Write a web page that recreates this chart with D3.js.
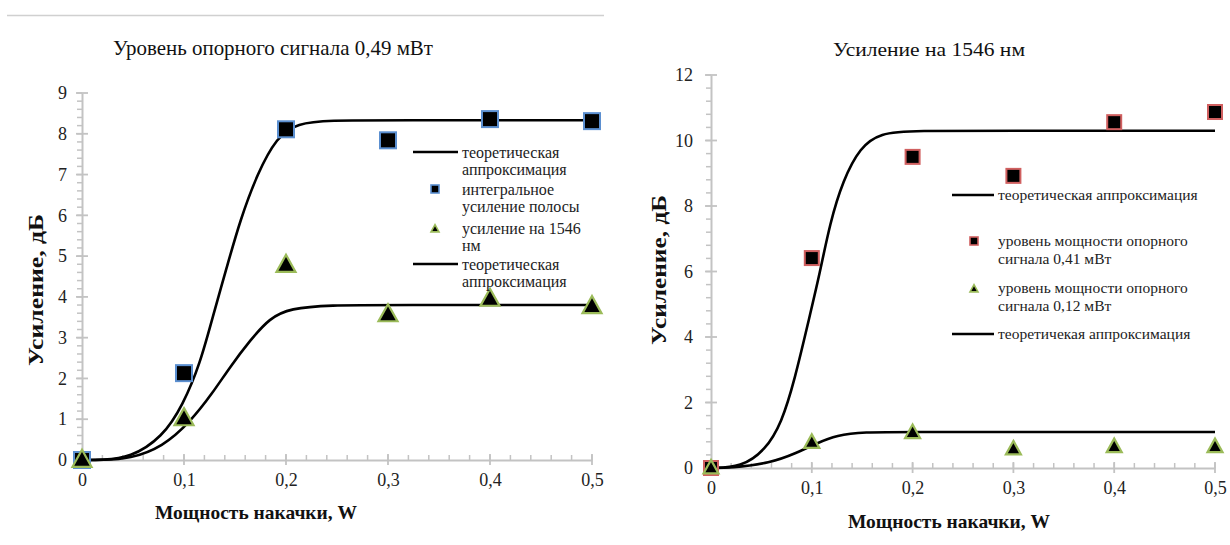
<!DOCTYPE html>
<html>
<head>
<meta charset="utf-8">
<script src="https://cdn.jsdelivr.net/npm/d3@7"></script>
<style>
html,body{margin:0;padding:0;background:#fff;}
svg{display:block;font-family:"Liberation Serif","Times New Roman",Tinos,"DejaVu Serif",serif;}
</style>
</head>
<body>
<svg id="c" width="1230" height="545"></svg>
<script>
// ---------- data ----------
const pumpPower = [0, 0.1, 0.2, 0.3, 0.4, 0.5];
const xTickLabels = ["0", "0,1", "0,2", "0,3", "0,4", "0,5"];

// left chart: "Уровень опорного сигнала 0,49 мВт"
const leftBandGain = [0, 2.13, 8.11, 7.84, 8.36, 8.31];
const left1546Gain = [0, 1.02, 4.78, 3.57, 3.95, 3.77];
const leftFitBandX = [0, 0.02, 0.047, 0.079, 0.099, 0.116, 0.128, 0.142, 0.155, 0.172, 0.191, 0.211, 0.243, 0.3, 0.5];
const leftFitBandY = [0, 0, 0.05, 0.56, 1.35, 2.38, 3.5, 4.73, 5.88, 7.03, 7.92, 8.26, 8.33, 8.33, 8.33];
const leftFit1546X = [0, 0.02, 0.047, 0.079, 0.106, 0.128, 0.145, 0.165, 0.184, 0.204, 0.243, 0.3, 0.5];
const leftFit1546Y = [0, 0, 0.03, 0.32, 0.93, 1.64, 2.28, 2.94, 3.48, 3.72, 3.8, 3.8, 3.8];
const leftYTicks = [0, 1, 2, 3, 4, 5, 6, 7, 8, 9];

// right chart: "Усиление на 1546 нм"
const right041Gain = [0, 6.41, 9.5, 8.92, 10.56, 10.87];
const right012Gain = [0, 0.78, 1.08, 0.58, 0.65, 0.65];
const rightFit041X = [0, 0.03, 0.054, 0.07, 0.083, 0.097, 0.108, 0.118, 0.131, 0.148, 0.168, 0.2, 0.3, 0.5];
const rightFit041Y = [0, 0.02, 0.55, 1.37, 2.69, 4.52, 5.95, 7.48, 8.79, 9.8, 10.23, 10.3, 10.3, 10.3];
const rightFit012X = [0, 0.019, 0.059, 0.085, 0.105, 0.125, 0.15, 0.2, 0.3, 0.5];
const rightFit012Y = [0, 0, 0.15, 0.46, 0.76, 1.0, 1.1, 1.1, 1.1, 1.1];
const rightYTicks = [0, 2, 4, 6, 8, 10, 12];

const svg = d3.select("#c");

// top separator line
svg.append("line").attr("x1", 7).attr("x2", 604).attr("y1", 15.5).attr("y2", 15.5)
  .attr("stroke", "#d0d0d0").attr("stroke-width", 1.5);

function drawChart(cfg) {
  const g = svg.append("g");
  const x = d3.scaleLinear().domain([0, 0.5]).range(cfg.xr);
  const y = d3.scaleLinear().domain([0, cfg.ymax]).range(cfg.yr);
  const axisColor = "#c3c3c3";
  const serif = '"Liberation Serif","Times New Roman",Tinos,"DejaVu Serif",serif';

  // minor ticks
  const xMinor = d3.range(0, 0.5001, 0.02);
  g.selectAll(null).data(xMinor).enter().append("line")
    .attr("x1", d => x(d)).attr("x2", d => x(d))
    .attr("y1", cfg.yr[0] - 5).attr("y2", cfg.yr[0])
    .attr("stroke", axisColor).attr("stroke-width", 1.5);
  const yMinor = d3.range(0, cfg.ymax + 0.0001, cfg.yMinorStep);
  g.selectAll(null).data(yMinor).enter().append("line")
    .attr("x1", cfg.xr[0] - 5).attr("x2", cfg.xr[0])
    .attr("y1", d => y(d)).attr("y2", d => y(d))
    .attr("stroke", axisColor).attr("stroke-width", 1.5);

  // axes using d3 axis generators
  const xAxis = d3.axisBottom(x).tickValues(pumpPower).tickSize(0)
    .tickFormat((d, i) => xTickLabels[i]);
  const xg = g.append("g").attr("transform", `translate(0,${cfg.yr[0]})`).call(xAxis);
  xg.attr("font-family", serif);
  xg.select(".domain").attr("stroke", axisColor).attr("stroke-width", 2);
  xg.selectAll("text").attr("font-size", 18).attr("fill", "#222").attr("dy", "1.3em");
  g.selectAll(null).data(pumpPower).enter().append("line")
    .attr("x1", d => x(d)).attr("x2", d => x(d))
    .attr("y1", cfg.yr[0] - 6).attr("y2", cfg.yr[0] + 5)
    .attr("stroke", axisColor).attr("stroke-width", 1.8);

  const yAxis = d3.axisLeft(y).tickValues(cfg.yTicks).tickSize(0).tickPadding(cfg.yPad)
    .tickFormat(d => String(d));
  const yg = g.append("g").attr("transform", `translate(${cfg.xr[0]},0)`).call(yAxis);
  yg.attr("font-family", serif);
  yg.select(".domain").attr("stroke", axisColor).attr("stroke-width", 2);
  yg.selectAll("text").attr("font-size", 18).attr("fill", "#222");
  g.selectAll(null).data(cfg.yTicks).enter().append("line")
    .attr("x1", cfg.xr[0] - 6).attr("x2", cfg.xr[0] + 6)
    .attr("y1", d => y(d)).attr("y2", d => y(d))
    .attr("stroke", axisColor).attr("stroke-width", 1.8);

  // fit curves
  const line = d3.line().x(d => x(d[0])).y(d => y(d[1])).curve(d3.curveBasis);
  cfg.fits.forEach(f => {
    g.append("path").datum(d3.zip(f.x, f.y)).attr("d", line)
      .attr("fill", "none").attr("stroke", "#000").attr("stroke-width", 2.6);
  });

  // markers
  const sq = cfg.squares;
  g.selectAll(null).data(d3.zip(pumpPower, sq.values)).enter().append("rect")
    .attr("x", d => x(d[0]) - sq.size / 2).attr("y", d => y(d[1]) - sq.size / 2)
    .attr("width", sq.size).attr("height", sq.size)
    .attr("fill", "#000").attr("stroke", sq.stroke).attr("stroke-width", 2);
  const tr = cfg.triangles;
  const triPath = (cx, cy, s) => {
    const h = s * 0.9;
    return `M${cx},${cy - h * 0.6}L${cx + s / 2},${cy + h * 0.4}L${cx - s / 2},${cy + h * 0.4}Z`;
  };
  g.selectAll(null).data(d3.zip(pumpPower, tr.values)).enter().append("path")
    .attr("d", d => triPath(x(d[0]), y(d[1]), tr.size))
    .attr("fill", "#000").attr("stroke", "#9bbb59").attr("stroke-width", 2.2)
    .attr("stroke-linejoin", "miter");

  // titles
  g.append("text").attr("x", cfg.title.x).attr("y", cfg.title.y).attr("text-anchor", "middle")
    .attr("font-size", cfg.title.size).attr("fill", "#111")
    .attr("textLength", cfg.title.len).attr("lengthAdjust", "spacingAndGlyphs")
    .text(cfg.title.text);
  g.append("text").attr("transform", `translate(${cfg.yTitle.x},${cfg.yTitle.y}) rotate(-90)`)
    .attr("text-anchor", "middle").attr("font-size", 22).attr("font-weight", "bold")
    .attr("textLength", cfg.yTitle.len).attr("lengthAdjust", "spacingAndGlyphs")
    .attr("fill", "#111").text("Усиление, дБ");
  g.append("text").attr("x", cfg.xTitle.x).attr("y", cfg.xTitle.y).attr("text-anchor", "middle")
    .attr("font-size", 19.5).attr("font-weight", "bold").attr("fill", "#111")
    .attr("textLength", 202).attr("lengthAdjust", "spacingAndGlyphs")
    .text("Мощность накачки, W");

  // legend
  const L = cfg.legend;
  L.items.forEach(it => {
    if (it.type === "line") {
      g.append("line").attr("x1", L.lineX[0]).attr("x2", L.lineX[1]).attr("y1", it.y).attr("y2", it.y)
        .attr("stroke", "#000").attr("stroke-width", 2.6);
    } else if (it.type === "square") {
      g.append("rect").attr("x", L.markX - 4).attr("y", it.y - 4).attr("width", 8).attr("height", 8)
        .attr("fill", "#000").attr("stroke", sq.stroke).attr("stroke-width", 1.6);
    } else {
      g.append("path").attr("d", triPath(L.markX, it.y + 1, 8))
        .attr("fill", "#000").attr("stroke", "#9bbb59").attr("stroke-width", 1.6);
    }
    it.lines.forEach((t, i) => {
      g.append("text").attr("x", L.textX).attr("y", it.y + i * L.lh).attr("dy", "0.35em")
        .attr("font-size", L.size).attr("fill", "#222").text(t);
    });
  });
}

drawChart({
  xr: [82, 592], yr: [460, 93], ymax: 9, yTicks: leftYTicks, yMinorStep: 0.2, yPad: 15,
  fits: [{x: leftFitBandX, y: leftFitBandY}, {x: leftFit1546X, y: leftFit1546Y}],
  squares: {values: leftBandGain, size: 16, stroke: "#5b8fd0"},
  triangles: {values: left1546Gain, size: 19},
  title: {x: 273, y: 55, size: 21, len: 320, text: "Уровень опорного сигнала 0,49 мВт"},
  yTitle: {x: 43, y: 290, len: 152}, xTitle: {x: 256, y: 519},
  legend: {
    lineX: [413, 458], markX: 435, textX: 462, lh: 17, size: 16,
    items: [
      {type: "line", y: 152, lines: ["теоретическая", "аппроксимация"]},
      {type: "square", y: 189, lines: ["интегральное", "усиление полосы"]},
      {type: "tri", y: 228, lines: ["усиление на 1546", "нм"]},
      {type: "line", y: 264, lines: ["теоретическая", "аппроксимация"]}
    ]
  }
});

drawChart({
  xr: [711, 1215], yr: [468, 75], ymax: 12, yTicks: rightYTicks, yMinorStep: 0.4, yPad: 18,
  fits: [{x: rightFit041X, y: rightFit041Y}, {x: rightFit012X, y: rightFit012Y}],
  squares: {values: right041Gain, size: 14, stroke: "#d06060"},
  triangles: {values: right012Gain, size: 15},
  title: {x: 929, y: 56, size: 19, len: 192, text: "Усиление на 1546 нм"},
  yTitle: {x: 666, y: 270, len: 150}, xTitle: {x: 949, y: 528},
  legend: {
    lineX: [952, 994], markX: 974, textX: 998, lh: 17.5, size: 15.5,
    items: [
      {type: "line", y: 195, lines: ["теоретическая аппроксимация"]},
      {type: "square", y: 241, lines: ["уровень мощности опорного", "сигнала 0,41 мВт"]},
      {type: "tri", y: 288, lines: ["уровень мощности опорного", "сигнала 0,12 мВт"]},
      {type: "line", y: 334, lines: ["теоретичекая аппроксимация"]}
    ]
  }
});
</script>
</body>
</html>
